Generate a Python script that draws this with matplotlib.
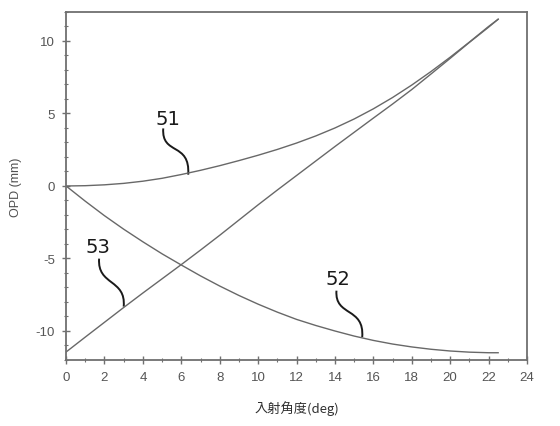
import matplotlib
matplotlib.use("Agg")
import matplotlib.pyplot as plt
from matplotlib.path import Path
from matplotlib.patches import PathPatch
from matplotlib.ticker import MultipleLocator

plt.rcParams['axes.unicode_minus'] = False

# incidence angle (deg)
angle = [0, 1, 2, 3, 4, 5, 6, 7, 8, 9, 10, 11, 12, 13, 14, 15, 16, 17, 18, 19, 20, 21, 22, 22.5]
# curve 51
opd_51 = [0, 0.02, 0.08, 0.18, 0.33, 0.53, 0.79, 1.08, 1.40, 1.75, 2.12, 2.52, 2.96, 3.45, 4.00,
          4.62, 5.32, 6.10, 6.96, 7.89, 8.88, 9.92, 11.0, 11.5]
# curve 52
opd_52 = [0, -1.05, -2.05, -2.98, -3.85, -4.68, -5.45, -6.2, -6.9, -7.55, -8.15, -8.7, -9.2,
          -9.62, -10.0, -10.35, -10.65, -10.9, -11.1, -11.26, -11.38, -11.46, -11.5, -11.5]
# curve 53
opd_53 = [-11.45, -10.42, -9.4, -8.38, -7.38, -6.4, -5.42, -4.42, -3.4, -2.35, -1.3, -0.28,
          0.72, 1.72, 2.72, 3.7, 4.68, 5.65, 6.65, 7.72, 8.8, 9.9, 10.95, 11.5]

labels = ["51", "52", "53"]

fig = plt.figure(figsize=(5.6, 4.27), dpi=100)
ax = fig.add_axes([0.118, 0.1546, 0.823, 0.815])

line_c = "#686868"
ax.plot(angle, opd_51, color=line_c, lw=1.0)
ax.plot(angle, opd_52, color=line_c, lw=1.0)
ax.plot(angle, opd_53, color=line_c, lw=1.0)

ax.set_xlim(0, 24)
ax.set_ylim(-12, 12)
ax.xaxis.set_major_locator(MultipleLocator(2))
ax.xaxis.set_minor_locator(MultipleLocator(1))
ax.yaxis.set_major_locator(MultipleLocator(5))
ax.yaxis.set_minor_locator(MultipleLocator(1))

frame_c = "#707070"
for s in ax.spines.values():
    s.set_color(frame_c)
    s.set_linewidth(1.3)
ax.tick_params(which='major', direction='inout', length=6, width=1.0, color=frame_c,
               labelcolor="#555555", labelsize=9.5, pad=5)
ax.tick_params(which='minor', direction='inout', length=3, width=0.8, color=frame_c)
for lab in ax.get_xticklabels() + ax.get_yticklabels():
    lab.set_family(["Liberation Sans", "DejaVu Sans"])

ax.set_xlabel("入射角度(deg)", family=["Noto Sans CJK JP", "DejaVu Sans"],
              fontsize=9.5, color="#303030", labelpad=12)
ax.set_ylabel("OPD (mm)", family=["Liberation Sans", "DejaVu Sans"],
              fontsize=9, color="#505050", labelpad=10)

# annotation labels with S-shaped leaders
annos = {
    "51": ((5.32, 4.67), [(5.06, 3.97), (4.96, 2.09), (6.47, 3.06), (6.36, 0.78)]),
    "52": ((14.14, -6.39), [(14.08, -7.22), (13.98, -9.02), (15.55, -8.33), (15.42, -10.43)]),
    "53": ((1.67, -4.19), [(1.72, -5.01), (1.62, -6.88), (3.13, -6.4), (3.0, -8.32)]),
}
for name in labels:
    (tx, ty), pts = annos[name]
    ax.text(tx, ty, name, ha='center', va='center', fontsize=14, color="#1a1a1a",
            family=["DejaVu Sans"])
    path = Path(pts, [Path.MOVETO, Path.CURVE4, Path.CURVE4, Path.CURVE4])
    ax.add_patch(PathPatch(path, facecolor='none', edgecolor="#1a1a1a", lw=1.4))

fig.savefig("out.png", dpi=100)
